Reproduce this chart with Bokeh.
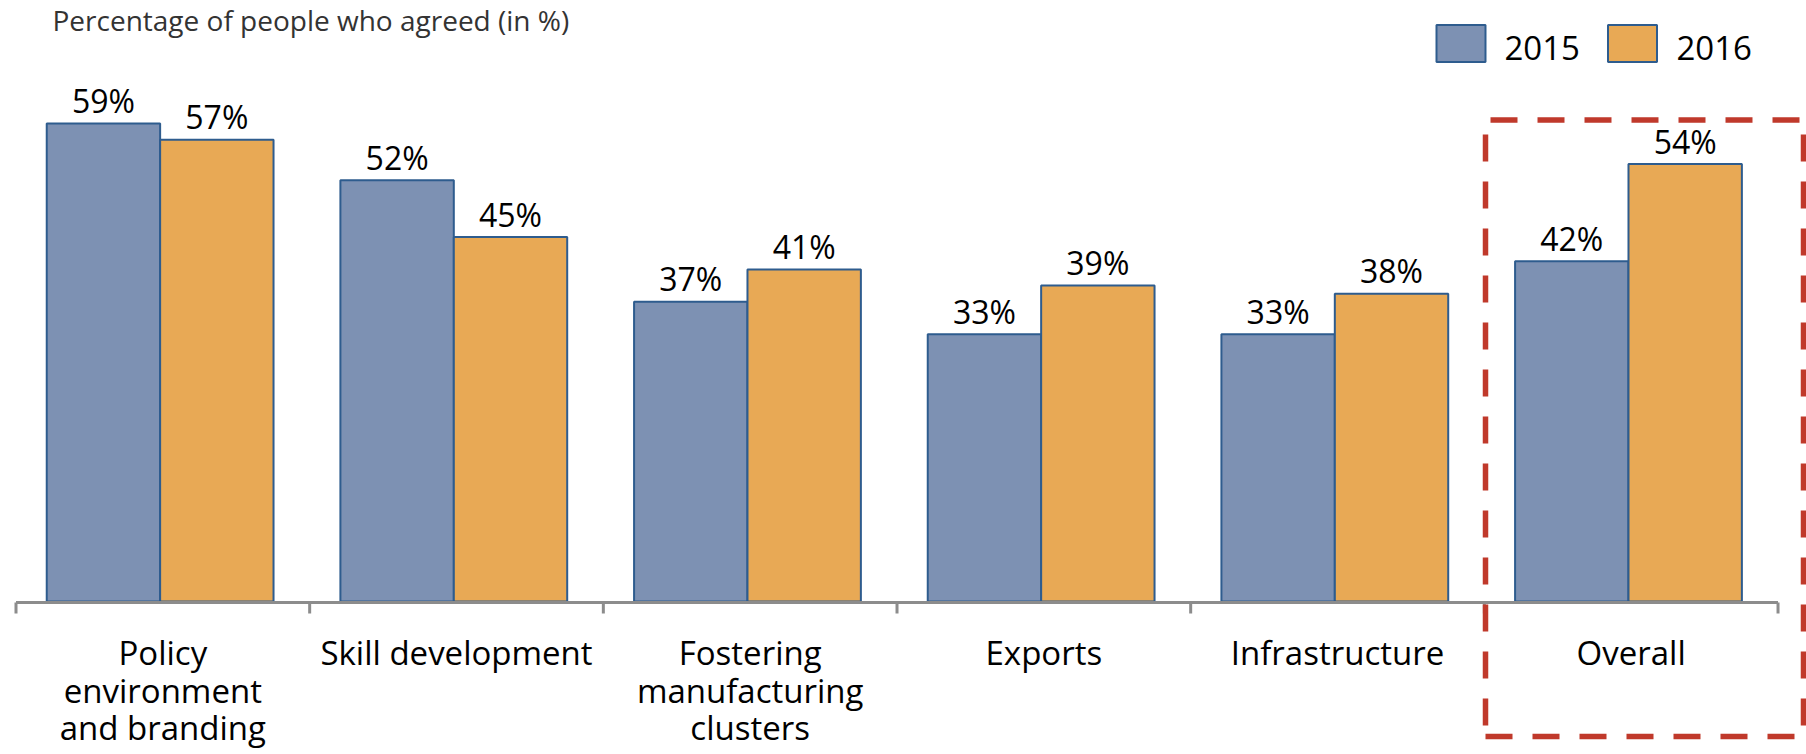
from bokeh.plotting import figure
from bokeh.models import Range1d, ColumnDataSource
from bokeh.core.properties import value
from bokeh.embed import file_html
from bokeh.resources import INLINE

# ---------------- data ----------------
categories = ["Policy\nenvironment\nand branding", "Skill development",
              "Fostering\nmanufacturing\nclusters", "Exports", "Infrastructure", "Overall"]
years = ["2015", "2016"]
values_2015 = [59, 52, 37, 33, 33, 42]
values_2016 = [57, 45, 41, 39, 38, 54]
title_text = "Percentage of people who agreed (in %)"
highlight_category = "Overall"

# ---------------- layout helpers (screen px -> data) ----------------
W, H = 1806, 754
PX_PER_CAT = 293.67
X0_SCREEN = 15.5      # screen x of category boundary 0
Y0_SCREEN = 601.0     # screen y of value 0
PX_PER_PCT = 8.1
TXT_FIX = 12          # svg text renders this many px below the requested baseline

def xd(sx):
    return (sx - X0_SCREEN) / PX_PER_CAT

def yd(sy):
    return (Y0_SCREEN - sy) / PX_PER_PCT

def ytxt(sy):
    return yd(sy - TXT_FIX)

FONT = "Open Sans"
BLUE = "#7D91B3"
ORANGE = "#E8A955"
OUTLINE = "#2E5C8E"
AXIS = "#8C8C8C"
RED = "#C0392B"

p = figure(width=W, height=H, output_backend="svg", toolbar_location=None,
           x_axis_type=None, y_axis_type=None,
           x_range=Range1d(xd(0), xd(W)), y_range=Range1d(yd(H), yd(0)),
           min_border=0, min_border_left=0, min_border_right=0,
           min_border_top=0, min_border_bottom=0)
p.outline_line_color = None
p.grid.visible = False
p.background_fill_color = "white"
p.border_fill_color = "white"

n = len(categories)
bar_w = 113.4 / PX_PER_CAT
off_2015 = -59.4 / PX_PER_CAT
off_2016 = 54.0 / PX_PER_CAT

centers = [i + 0.5 for i in range(n)]
src15 = ColumnDataSource(dict(x=[c + off_2015 for c in centers], top=values_2015,
                              lab=[f"{v}%" for v in values_2015]))
src16 = ColumnDataSource(dict(x=[c + off_2016 for c in centers], top=values_2016,
                              lab=[f"{v}%" for v in values_2016]))

p.vbar(x="x", top="top", bottom=0, width=bar_w, source=src15,
       fill_color=BLUE, line_color=OUTLINE, line_width=2)
p.vbar(x="x", top="top", bottom=0, width=bar_w, source=src16,
       fill_color=ORANGE, line_color=OUTLINE, line_width=2)

for src in (src15, src16):
    p.text(x="x", y="top", text="lab", source=src, text_align="center",
           text_baseline="alphabetic", y_offset=-(11 + TXT_FIX),
           text_font=value(FONT), text_font_size="32px", text_color="#000000")

# x axis line with category-boundary ticks
p.segment(x0=[0], y0=[yd(602)], x1=[n], y1=[yd(602)], line_color=AXIS, line_width=3)
p.segment(x0=list(range(n + 1)), y0=[yd(602)] * (n + 1),
          x1=list(range(n + 1)), y1=[yd(613)] * (n + 1),
          line_color=AXIS, line_width=3)

# category labels (multi-line, drawn line by line)
lx, ly, lt = [], [], []
for c, cat in zip(centers, categories):
    for k, line in enumerate(cat.split("\n")):
        lx.append(c)
        ly.append(ytxt(664 + 37.5 * k))
        lt.append(line)
p.text(x=lx, y=ly, text=lt, text_align="center", text_baseline="alphabetic",
       text_font=value(FONT), text_font_size="33px", text_color="#000000")

# title
p.text(x=[xd(52)], y=[ytxt(31)], text=[title_text], text_align="left",
       text_baseline="alphabetic", text_font=value(FONT), text_font_size="28px",
       text_color="#333333")

# legend
leg_rect_x = [xd(1460.5), xd(1632)]
p.rect(x=leg_rect_x, y=[yd(43)] * 2, width=49, height=37,
       width_units="screen", height_units="screen",
       fill_color=[BLUE, ORANGE], line_color=OUTLINE, line_width=2)
p.text(x=[xd(1504), xd(1676)], y=[ytxt(59)] * 2, text=years, text_align="left",
       text_baseline="alphabetic", text_font=value(FONT), text_font_size="33px",
       text_color="#000000")

# dashed highlight box around the "Overall" group
left_x = xd(1485)
right_x = xd(1803)
top_y = yd(119.5)
bot_y = yd(736)
p.segment(x0=[xd(1490)], y0=[top_y], x1=[right_x], y1=[top_y],
          line_color=RED, line_width=5.5, line_dash="27 20")
p.segment(x0=[left_x], y0=[yd(134)], x1=[left_x], y1=[bot_y],
          line_color=RED, line_width=5.5, line_dash="27 20")
p.segment(x0=[left_x], y0=[bot_y], x1=[right_x], y1=[bot_y],
          line_color=RED, line_width=5.5, line_dash="27 20")
p.segment(x0=[right_x], y0=[yd(134)], x1=[right_x], y1=[bot_y],
          line_color=RED, line_width=5.5, line_dash="27 20")

open("out.html", "w").write(file_html(p, INLINE))
